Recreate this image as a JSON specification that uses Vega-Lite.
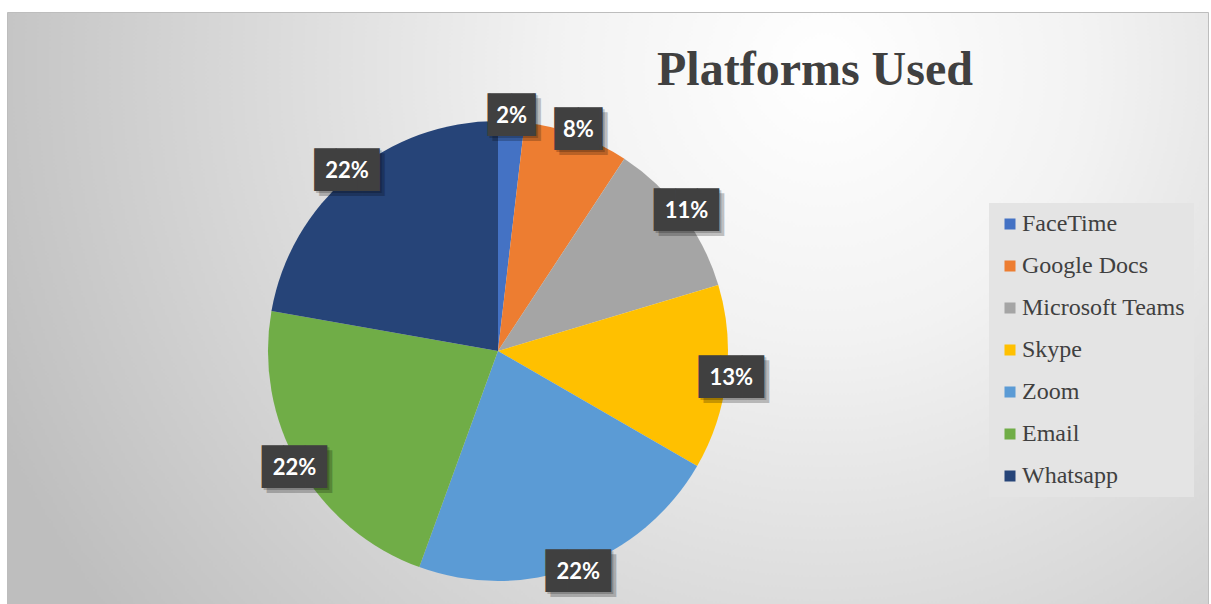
{
  "$schema": "https://vega.github.io/schema/vega-lite/v6.json",
  "autosize": {"type": "fit", "contains": "padding"},
  "width": 1211,
  "height": 604,
  "padding": {"top": 12, "left": 7, "right": 3, "bottom": 0},
  "background": "#ffffff",
  "view": {
    "stroke": "#bdbdbd",
    "strokeWidth": 1,
    "fill": {
      "gradient": "radial",
      "x1": 0.68, "y1": 0.3, "r1": 0,
      "x2": 0.68, "y2": 0.3, "r2": 0.75,
      "stops": [
        {"offset": 0, "color": "#ffffff"},
        {"offset": 0.3, "color": "#f2f2f2"},
        {"offset": 1, "color": "#bebebe"}
      ]
    }
  },
  "title": {
    "text": "Platforms Used",
    "anchor": "start",
    "frame": "group",
    "dx": 650,
    "offset": -121,
    "baseline": "alphabetic",
    "font": "Liberation Serif",
    "fontSize": 48,
    "fontWeight": "bold",
    "color": "#404040"
  },
  "data": {
    "values": [
      {"platform": "FaceTime", "count": 1, "pct": "2%", "i": 1},
      {"platform": "Google Docs", "count": 4, "pct": "8%", "i": 2},
      {"platform": "Microsoft Teams", "count": 6, "pct": "11%", "i": 3},
      {"platform": "Skype", "count": 7, "pct": "13%", "i": 4},
      {"platform": "Zoom", "count": 12, "pct": "22%", "i": 5},
      {"platform": "Email", "count": 12, "pct": "22%", "i": 6},
      {"platform": "Whatsapp", "count": 12, "pct": "22%", "i": 7}
    ]
  },
  "encoding": {
    "theta": {"field": "count", "type": "quantitative", "stack": true},
    "order": {"field": "i", "type": "quantitative"},
    "x": {"datum": 0.4088, "type": "quantitative", "scale": {"domain": [0, 1], "nice": false, "zero": false}, "axis": null},
    "y": {"datum": 0.4274, "type": "quantitative", "scale": {"domain": [0, 1], "nice": false, "zero": false}, "axis": null}
  },
  "layer": [
    {
      "mark": {"type": "arc", "outerRadius": 230, "stroke": null},
      "encoding": {
        "color": {
          "field": "platform",
          "type": "nominal",
          "sort": null,
          "scale": {
            "domain": ["FaceTime", "Google Docs", "Microsoft Teams", "Skype", "Zoom", "Email", "Whatsapp"],
            "range": ["#4472C4", "#ED7D31", "#A5A5A5", "#FFC000", "#5B9BD5", "#70AD47", "#264478"]
          },
          "legend": {
            "title": null,
            "orient": "none",
            "legendX": 982,
            "legendY": 191,
            "fillColor": "#e4e4e4",
            "padding": 9,
            "symbolType": "square",
            "symbolSize": 121,
            "symbolStrokeWidth": 0,
            "labelFont": "Liberation Serif",
            "labelFontSize": 24,
            "labelColor": "#404040",
            "labelOffset": 0,
            "labelLimit": 300,
            "rowPadding": 18
          }
        }
      }
    },
    {
      "mark": {"type": "text", "radius": 235, "font": "DejaVu Sans Mono", "fontSize": 36, "color": "#000000", "opacity": 0.22, "dx": 5, "dy": 5, "baseline": "middle", "align": "center"},
      "encoding": {"text": {"condition": {"test": "length(datum.pct) < 3", "value": "▕██▏"}, "value": "███"}}
    },
    {
      "mark": {"type": "text", "radius": 235, "font": "DejaVu Sans Mono", "fontSize": 36, "color": "#000000", "opacity": 0.2, "dx": 2, "dy": 2, "baseline": "middle", "align": "center"},
      "encoding": {"text": {"condition": {"test": "length(datum.pct) < 3", "value": "▕██▏"}, "value": "███"}}
    },
    {
      "mark": {"type": "text", "radius": 235, "font": "DejaVu Sans Mono", "fontSize": 36, "color": "#404040", "baseline": "middle", "align": "center"},
      "encoding": {"text": {"condition": {"test": "length(datum.pct) < 3", "value": "▕██▏"}, "value": "███"}}
    },
    {
      "mark": {"type": "text", "radius": 235, "font": "Lato", "fontWeight": "bold", "fontSize": 22, "color": "#ffffff", "baseline": "middle", "align": "center"},
      "encoding": {"text": {"field": "pct"}}
    }
  ]
}
